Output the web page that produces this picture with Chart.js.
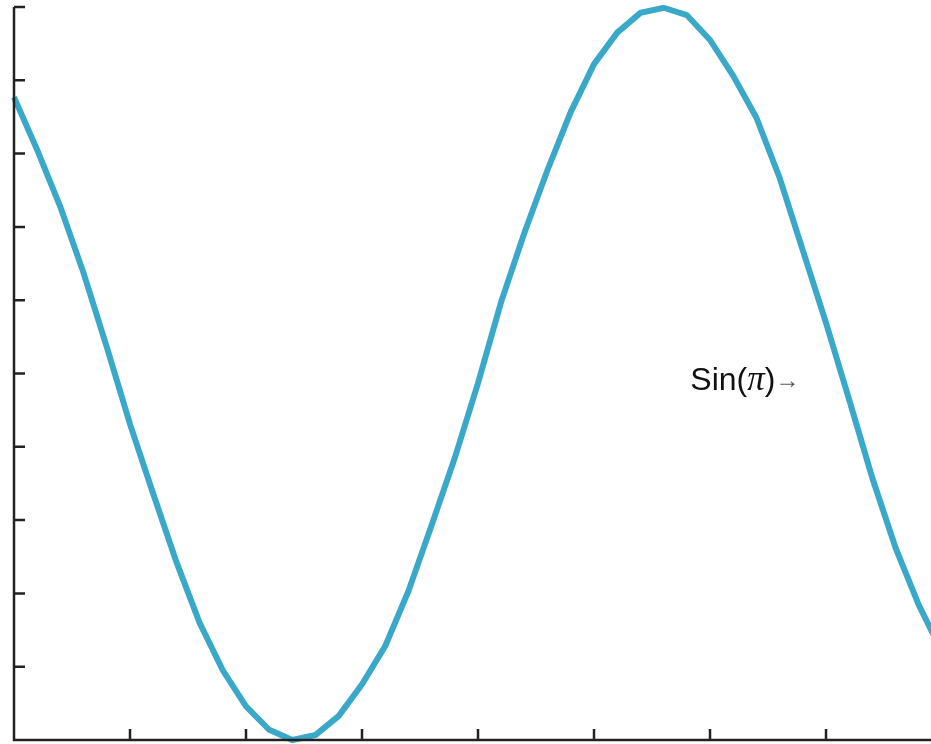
<!DOCTYPE html>
<html>
<head>
<meta charset="utf-8">
<script src="https://cdn.jsdelivr.net/npm/chart.js@4/dist/chart.umd.min.js"></script>
<style>
html,body{margin:0;padding:0;background:#fff;}
#wrap{width:931px;height:744px;}
</style>
</head>
<body>
<div id="wrap"><canvas id="sinChart"></canvas></div>
<script>
// x positions (tick units) and curve values
const xs=[0,0.2,0.4,0.6,0.8,1,1.2,1.4,1.6,1.8,2,2.2,2.4,2.6,2.8,3,3.2,3.4,3.6,3.8,
	4,4.2,4.4,4.6,4.8,5,5.2,5.4,5.6,5.8,6,6.2,6.4,6.6,6.8,7,7.2,7.4,7.6,7.8,8];
const ys=[8.77,8.05,7.27,6.37,5.36,4.31,3.36,2.43,1.60,0.95,0.46,0.14,0.00,0.07,0.33,0.76,1.28,2.03,2.93,3.85,
	4.87,5.98,6.92,7.78,8.57,9.22,9.65,9.92,9.99,9.89,9.55,9.06,8.49,7.67,6.68,5.69,4.64,3.57,2.62,1.84,1.20];
const xTicks=[0,1,2,3,4,5,6,7];
const yTicks=[0,1,2,3,4,5,6,7,8,9,10];
const label={x:5.83,y:4.94};

// axes with inward ticks + the Sin(pi) label
const axesPlugin={
	id:'axesPlugin',
	afterDatasetsDraw(chart){
		const c=chart.ctx, a=chart.chartArea;
		const sx=chart.scales.x, sy=chart.scales.y;
		c.save();
		c.strokeStyle='#222';
		c.lineWidth=2.5;
		c.beginPath();
		c.moveTo(a.left,a.top);
		c.lineTo(a.left,a.bottom);
		c.lineTo(a.right,a.bottom);
		yTicks.forEach(function(v){
			let p=sy.getPixelForValue(v);
			c.moveTo(a.left,p);c.lineTo(a.left+11,p);
		});
		xTicks.forEach(function(v){
			let p=sx.getPixelForValue(v);
			c.moveTo(p,a.bottom);c.lineTo(p,a.bottom-11);
		});
		c.stroke();
		// label
		let px=sx.getPixelForValue(label.x), py=sy.getPixelForValue(label.y);
		c.fillStyle='#111';
		c.textBaseline='alphabetic';
		c.font='32px "Liberation Sans", Arial, sans-serif';
		c.fillText('Sin(',px,py+12);
		let w=c.measureText('Sin(').width;
		c.font='italic 35px "Liberation Serif", "Times New Roman", serif';
		c.fillText('\u03C0',px+w,py+12);
		w+=c.measureText('\u03C0').width;
		c.font='32px "Liberation Sans", Arial, sans-serif';
		c.fillText(')',px+w,py+12);
		w+=c.measureText(')').width;
		c.fillStyle='#555';
		c.font='24px "Liberation Serif", serif';
		c.fillText('\u2192',px+w,py+10);
		c.restore();
	}
};

const pts=xs.map(function(x,i){return {x:x,y:ys[i]};});

new Chart(document.getElementById('sinChart'),{
	type:'line',
	data:{
		datasets:[{
			data:pts,
			borderColor:'#3aa8c8',
			borderWidth:6,
			pointRadius:0,
			tension:0,
			fill:false,
			clip:false
		}]
	},
	options:{
		responsive:true,
		maintainAspectRatio:false,
		animation:false,
		layout:{padding:{left:14,top:7,right:0,bottom:4}},
		plugins:{legend:{display:false},tooltip:{enabled:false}},
		scales:{
			x:{type:'linear',display:false,min:0,max:7.905},
			y:{type:'linear',display:false,min:0,max:10}
		}
	},
	plugins:[axesPlugin]
});
</script>
</body>
</html>
